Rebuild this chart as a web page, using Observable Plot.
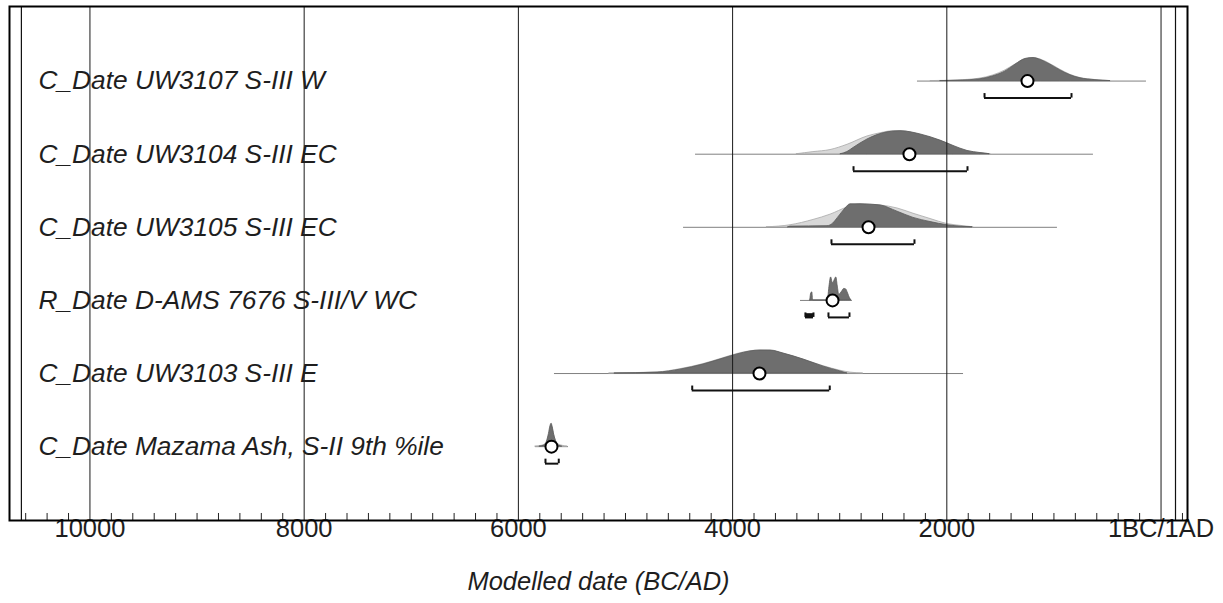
<!DOCTYPE html>
<html>
<head>
<meta charset="utf-8">
<script src="https://cdn.jsdelivr.net/npm/d3@7"></script>
<script src="https://cdn.jsdelivr.net/npm/@observablehq/plot@0.6"></script>
<style>
  html, body { margin: 0; padding: 0; background: white; }
  #chart svg { display: block; }
</style>
</head>
<body>
<div id="chart"></div>
<script>
// ---------- data (years BC; 0 = 1BC/1AD) ----------
const rowLabels = [
  "C_Date UW3107 S-III W",
  "C_Date UW3104 S-III EC",
  "C_Date UW3105 S-III EC",
  "R_Date D-AMS 7676 S-III/V WC",
  "C_Date UW3103 S-III E",
  "C_Date Mazama Ash, S-II 9th %ile"
];
const rangeFrom = [2274, 4346, 4458, 3366, 5663, 5840];
const rangeTo   = [136, 631, 967, 2881, 1844, 5532];
const meanYear  = [1247, 2349, 2731, 3067, 3749, 5691];

const hpdRow  = [0, 1, 2, 3, 3, 4, 5];
const hpdFrom = [1648, 2871, 3077, 3320, 3105, 4377, 5747];
const hpdTo   = [836, 1807, 2302, 3245, 2909, 3093, 5623];

// unmodelled likelihoods (light grey)
const likelihoodYears = [
  [2150, 1900, 1700, 1570, 1460, 1360, 1265, 1190, 1120, 1030, 940, 850, 760, 620, 470],
  [3400, 3245, 3086, 2927, 2741, 2619, 2498, 2433, 2246, 2059, 1938, 1807, 1686, 1590],
  [3680, 3459, 3245, 3086, 2927, 2806, 2619, 2461, 2311, 2152, 1994, 1844, 1750],
  [],
  [5150, 4701, 4487, 4272, 4085, 3954, 3833, 3740, 3646, 3525, 3338, 3151, 2993, 2900, 2780],
  [5840, 5780, 5740, 5715, 5695, 5690, 5680, 5660, 5630, 5590, 5540]
];
const likelihoodProb = [
  [0, .03, .10, .24, .45, .72, .96, 1, .93, .73, .49, .28, .14, .05, 0],
  [0, .09, .18, .41, .77, .91, 1, 1, .84, .57, .34, .13, .04, 0],
  [0, .09, .32, .55, .86, 1, .95, .82, .59, .36, .14, .05, 0],
  [],
  [0, .05, .19, .41, .67, .85, .97, 1, .99, .86, .60, .32, .12, .04, 0],
  [0, .04, .12, .35, .80, .95, .80, .40, .12, .04, 0]
];
// modelled posteriors (dark grey)
const posteriorYears = [
  [2059, 1872, 1686, 1564, 1452, 1359, 1265, 1191, 1125, 1032, 939, 845, 752, 612, 472],
  [2990, 2930, 2871, 2741, 2554, 2433, 2246, 2059, 1938, 1807, 1686, 1600],
  [3480, 3459, 3114, 3086, 2993, 2946, 2899, 2806, 2713, 2619, 2461, 2311, 2152, 1994, 1844, 1760],
  [3275, 3266, 3256, 3248, 3110, 3098, 3080, 3068, 3060, 3045, 3032, 3018, 3005, 2990, 2975, 2958, 2940, 2922, 2905, 2890],
  [5100, 4701, 4487, 4272, 4085, 3954, 3833, 3740, 3646, 3525, 3338, 3151, 2993, 2927],
  [5800, 5760, 5735, 5715, 5700, 5690, 5680, 5665, 5645, 5620, 5590]
];
const posteriorProb = [
  [0, .02, .08, .21, .42, .71, .96, 1, .92, .71, .46, .25, .12, .04, 0],
  [0, .09, .27, .64, .95, 1, .86, .59, .36, .14, .05, 0],
  [0, .03, .05, .08, .55, .82, 1, 1, .98, .95, .68, .41, .23, .09, .02, 0],
  [0, .30, .35, 0, 0, .50, 1, .80, .75, .90, 1, .60, .25, .30, .40, .50, .48, .30, .10, 0],
  [0, .04, .17, .39, .65, .83, .96, 1, 1, .87, .61, .30, .09, 0],
  [0, .05, .20, .55, .90, 1, .85, .50, .20, .05, 0]
];

const majorTicks = [10000, 8000, 6000, 4000, 2000, 0];
const majorTickLabels = ["10000", "8000", "6000", "4000", "2000", "1BC/1AD"];
const minorTicks = [10600, 10400, 10200, 9800, 9600, 9400, 9200, 9000, 8800, 8600, 8400, 8200,
  7800, 7600, 7400, 7200, 7000, 6800, 6600, 6400, 6200, 5800, 5600, 5400, 5200, 5000, 4800, 4600, 4400, 4200,
  3800, 3600, 3400, 3200, 3000, 2800, 2600, 2400, 2200, 1800, 1600, 1400, 1200, 1000, 800, 600, 400, 200, -200];
const extraLines = [10640, -135];
const axisTitle = "Modelled date (BC/AD)";

// ---------- layout constants ----------
const X_DOMAIN = [10751, -247];
const Y_DOMAIN = [-1.02, 6.01];
const ROW_PX = 73.1;
const PEAK = 23 / ROW_PX;
const BR = 17 / ROW_PX;
const BT = 4.5 / ROW_PX;
const MINOR = 7 / ROW_PX;
const FONT = "'Liberation Sans', Arial, Helvetica, sans-serif";

// ---------- tables ----------
const rows = rowLabels.map((label, i) => ({row: i, label, from: rangeFrom[i], to: rangeTo[i], mean: meanYear[i]}));
const toTable = (yrs, ps) => yrs.flatMap((ys, i) => ys.map((year, j) => ({row: i, year, p: ps[i][j]})));
const light = toTable(likelihoodYears, likelihoodProb);
const dark = toTable(posteriorYears, posteriorProb);
const hpd = hpdRow.map((row, i) => ({row, from: hpdFrom[i], to: hpdTo[i]}));
const hpdShort = hpd.filter(d => Math.abs(d.from - d.to) < 100);
const hpdEnds = hpd.flatMap(d => [{row: d.row, x: d.from}, {row: d.row, x: d.to}]);
const ticks = majorTicks.map((x, i) => ({x, label: majorTickLabels[i]}));

const chart = Plot.plot({
  width: 1223,
  height: 603,
  marginLeft: 9,
  marginRight: 36,
  marginTop: 6,
  marginBottom: 83,
  x: {domain: X_DOMAIN, axis: null},
  y: {domain: Y_DOMAIN, reverse: true, axis: null},
  style: {fontFamily: FONT, background: "white", overflow: "visible"},
  marks: [
    Plot.ruleY(rows, {y: "row", x1: "from", x2: "to", stroke: "#808080", strokeWidth: 1}),
    Plot.areaY(light, {x: "year", y1: "row", y2: d => d.row - d.p * PEAK, z: "row",
      fill: "#d8d8d8", stroke: "#a8a8a8", strokeWidth: 0.8, curve: "monotone-x"}),
    Plot.areaY(dark, {x: "year", y1: "row", y2: d => d.row - d.p * PEAK, z: "row",
      fill: "#6e6e6e", stroke: "#5a5a5a", strokeWidth: 0.8, curve: "monotone-x"}),
    Plot.ruleX(majorTicks, {stroke: "#1a1a1a", strokeWidth: 1}),
    Plot.ruleX(extraLines, {stroke: "#111", strokeWidth: 1.2}),
    Plot.ruleX(minorTicks, {x: d => d, y1: () => Y_DOMAIN[1], y2: () => Y_DOMAIN[1] - MINOR, stroke: "#222", strokeWidth: 1}),
    Plot.ruleY(hpd, {y: d => d.row + BR, x1: "from", x2: "to", stroke: "#111", strokeWidth: 2}),
    Plot.ruleY(hpdShort, {y: d => d.row + BR - BT / 2, x1: "from", x2: "to", stroke: "#111", strokeWidth: 4}),
    Plot.ruleX(hpdEnds, {x: "x", y1: d => d.row + BR, y2: d => d.row + BR - BT, stroke: "#111", strokeWidth: 2}),
    Plot.dot(rows, {x: "mean", y: "row", r: 6, fill: "white", stroke: "black", strokeWidth: 2}),
    Plot.text(rows, {y: "row", text: "label", frameAnchor: "left", dx: 29, textAnchor: "start",
      fontSize: 26.3, fontStyle: "italic", fill: "#1e1e1e"}),
    Plot.text(ticks, {x: "x", text: "label", frameAnchor: "bottom", dy: 16, fontSize: 25.5, fill: "#1e1e1e"}),
    Plot.text([axisTitle], {frameAnchor: "bottom", dy: 69, fontSize: 25.5, fontStyle: "italic", fill: "#1e1e1e"}),
    Plot.frame({stroke: "black", strokeWidth: 2})
  ]
});
document.getElementById("chart").appendChild(chart);
</script>
</body>
</html>
